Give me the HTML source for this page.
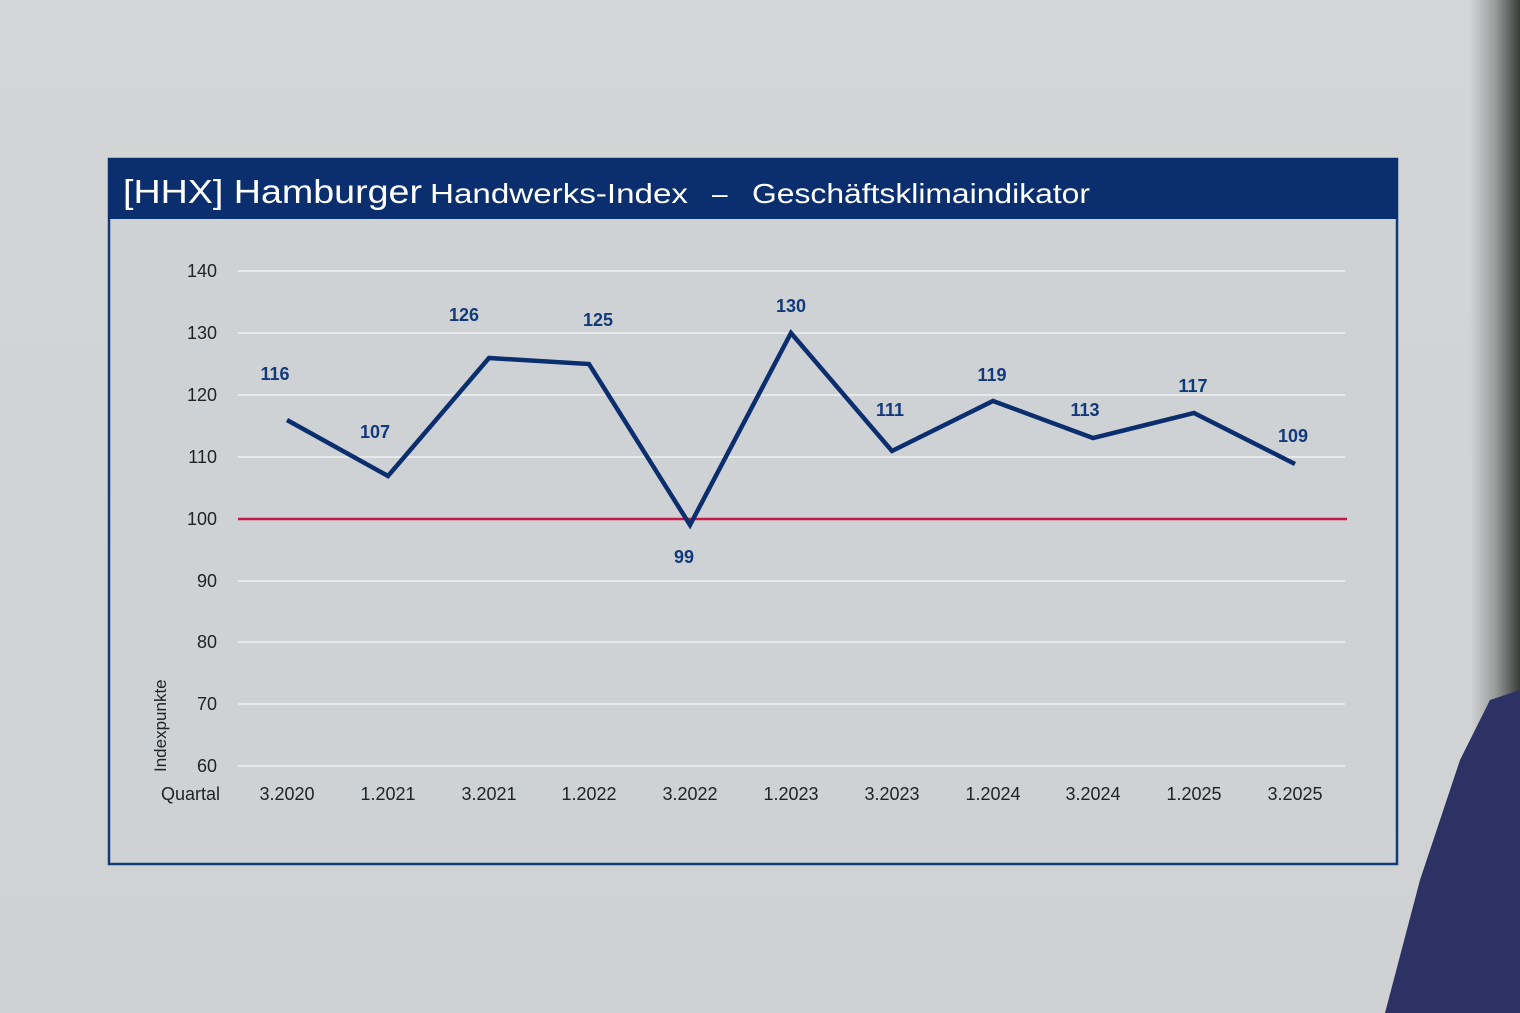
<!DOCTYPE html>
<html><head><meta charset="utf-8"><style>
body{margin:0;width:1520px;height:1013px;overflow:hidden;background:linear-gradient(180deg,#d3d5d7 0%,#d0d2d4 60%,#cfd1d3 100%);font-family:"Liberation Sans",sans-serif;}
</style></head><body>
<svg width="1520" height="1013" style="position:absolute;left:0;top:0">
<defs><linearGradient id="edge" x1="0" x2="1"><stop offset="0" stop-color="#d2d4d6"/><stop offset="0.5" stop-color="#9a9c9c"/><stop offset="1" stop-color="#3a3c3a"/></linearGradient></defs>
<rect x="1470" y="0" width="50" height="1013" fill="url(#edge)"/>
<polygon points="1385,1013 1420,880 1460,760 1490,700 1520,690 1520,1013" fill="#2c3264"/>
<rect x="109" y="159" width="1288" height="705" fill="#cfd2d4" stroke="#123a7a" stroke-width="2.5"/>
<rect x="108" y="158" width="1290" height="61" fill="#0b2f6e"/>
<text x="123" y="203" fill="#fff" font-size="33" textLength="299" lengthAdjust="spacingAndGlyphs">[HHX] Hamburger</text>
<text x="430" y="203" fill="#fff" font-size="28" textLength="258" lengthAdjust="spacingAndGlyphs">Handwerks-Index</text>
<text x="712" y="203" fill="#fff" font-size="28">–</text>
<text x="752" y="203" fill="#fff" font-size="28" textLength="338" lengthAdjust="spacingAndGlyphs">Geschäftsklimaindikator</text>
<g stroke="#e6e8e9" stroke-width="2">
<line x1="238" x2="1345" y1="271" y2="271"/><line x1="238" x2="1345" y1="333" y2="333"/><line x1="238" x2="1345" y1="395" y2="395"/><line x1="238" x2="1345" y1="457" y2="457"/><line x1="238" x2="1345" y1="581" y2="581"/><line x1="238" x2="1345" y1="642" y2="642"/><line x1="238" x2="1345" y1="704" y2="704"/><line x1="238" x2="1345" y1="766" y2="766"/>
</g>
<line x1="238" x2="1347" y1="519" y2="519" stroke="#c8184a" stroke-width="2.5"/>
<g font-size="18" fill="#222" text-anchor="end">
<text x="217" y="277">140</text><text x="217" y="339">130</text><text x="217" y="401">120</text><text x="217" y="463">110</text><text x="217" y="525">100</text><text x="217" y="587">90</text><text x="217" y="648">80</text><text x="217" y="710">70</text><text x="217" y="772">60</text>
<text x="220" y="800">Quartal</text>
</g>
<text transform="translate(166,772) rotate(-90)" font-size="17" fill="#222">Indexpunkte</text>
<g font-size="18" fill="#222" text-anchor="middle">
<text x="287" y="800">3.2020</text><text x="388" y="800">1.2021</text><text x="489" y="800">3.2021</text><text x="589" y="800">1.2022</text><text x="690" y="800">3.2022</text><text x="791" y="800">1.2023</text><text x="892" y="800">3.2023</text><text x="993" y="800">1.2024</text><text x="1093" y="800">3.2024</text><text x="1194" y="800">1.2025</text><text x="1295" y="800">3.2025</text>
</g>
<polyline fill="none" stroke="#0b2f6e" stroke-width="4.5" stroke-linejoin="miter" points="287,420 388,476 489,358 589,364 690,525 791,333 892,451 993,401 1093,438 1194,413 1295,464"/>
<g font-size="18" fill="#123a7a" font-weight="bold" text-anchor="middle">
<text x="275" y="380">116</text><text x="375" y="438">107</text><text x="464" y="321">126</text><text x="598" y="326">125</text><text x="684" y="563">99</text><text x="791" y="312">130</text><text x="890" y="416">111</text><text x="992" y="381">119</text><text x="1085" y="416">113</text><text x="1193" y="392">117</text><text x="1293" y="442">109</text>
</g>
</svg>
</body></html>
